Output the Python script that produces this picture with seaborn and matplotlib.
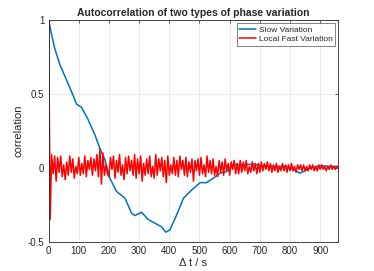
import numpy as np
import pandas as pd
import matplotlib
matplotlib.use('Agg')
import matplotlib.pyplot as plt
import seaborn as sns

# slow variation
slow_lag = [0, 10, 20, 37, 54, 75, 93, 109, 130, 154, 170, 187, 203, 225, 253, 275, 286,
            308, 330, 353, 375, 388, 402, 424, 447, 474, 502, 524, 546, 568, 590, 612,
            650, 679, 723, 760, 789, 810, 833, 850, 867, 900, 930, 960]
slow_val = [1.0, 0.90, 0.81, 0.70, 0.62, 0.52, 0.43, 0.41, 0.33, 0.22, 0.13, 0.054, -0.07,
            -0.16, -0.205, -0.307, -0.323, -0.30, -0.35, -0.375, -0.40, -0.435, -0.42,
            -0.32, -0.205, -0.15, -0.10, -0.10, -0.07, -0.036, -0.025, 0.02, 0.022, 0.025,
            0.01, 0.01, 0.01, -0.01, -0.036, -0.02, 0.0, 0.015, 0.01, 0.01]

# local fast variation, one value every 5 s
fast_val = [
    1.0, -0.35, 0.09, -0.04, 0.08, -0.09, 0.07, -0.03, 0.08, -0.06, 0.02, -0.08, 0.04, -0.05, 0.08, -0.03, 0.06, -0.07, 0.01, -0.04,
    0.07, -0.05, 0.03, -0.04, 0.08, -0.06, 0.05, -0.01, 0.07, -0.05, 0.06, -0.02, 0.09, -0.06, 0.13, -0.11, 0.10, -0.05, 0.02, -0.04,
    -0.06, 0.07, -0.01, 0.08, -0.07, 0.05, -0.03, 0.09, -0.05, 0.02, -0.08, 0.07, -0.04, 0.08, -0.02, 0.05, -0.05, 0.09, -0.07, 0.06,
    -0.04, 0.08, -0.09, 0.03, -0.05, 0.06, -0.04, 0.08, -0.06, 0.01, -0.07, 0.09, -0.05, 0.06, -0.02, 0.07, -0.06, 0.05, -0.10, 0.08,
    -0.05, 0.02, -0.04, 0.07, -0.05, 0.05, -0.06, 0.08, -0.01, 0.05, -0.05, 0.07, -0.06, 0.04, -0.03, 0.06, -0.09, 0.05, -0.02, 0.06,
    -0.05, 0.07, -0.04, 0.02, -0.06, 0.08, -0.03, 0.05, -0.04, 0.06, -0.05, 0.01, -0.06, 0.05, -0.03, 0.04, -0.05, 0.06, -0.02, 0.03,
    -0.05, 0.04, -0.01, 0.05, -0.04, 0.03, -0.04, 0.05, -0.03, 0.04, -0.02, 0.05, -0.04, 0.01, -0.03, 0.04, -0.02, 0.03, -0.04, 0.03,
    -0.03, 0.04, -0.02, 0.03, -0.01, 0.04, -0.02, 0.03, -0.03, 0.02, -0.02, 0.03, -0.03, 0.01, -0.02, 0.03, -0.02, 0.02, -0.03, 0.02,
    -0.02, 0.03, -0.02, 0.01, -0.03, 0.02, -0.01, 0.02, -0.02, 0.02, -0.02, 0.01, -0.02, 0.02, -0.01, 0.02, -0.02, 0.01, -0.02, 0.02,
    -0.01, 0.02, -0.01, 0.01, -0.02, 0.01, -0.01, 0.02, -0.01, 0.01, -0.01, 0.01, 0.0,
]
fast_lag = [5 * i for i in range(len(fast_val))]

x_ticks = [0, 100, 200, 300, 400, 500, 600, 700, 800, 900]
y_ticks = [-0.5, 0, 0.5, 1]
y_ticklabels = ['-0.5', '0', '0.5', '1']

sns.set_style('white')
plt.rcParams['font.family'] = ['Liberation Sans', 'DejaVu Sans']
plt.rcParams['xtick.direction'] = 'in'
plt.rcParams['ytick.direction'] = 'in'

fig = plt.figure(figsize=(3.74, 2.71), dpi=100)
ax = fig.add_axes([0.13, 0.108, 0.7745, 0.818])

df_slow = pd.DataFrame({'lag': slow_lag, 'val': slow_val})
df_fast = pd.DataFrame({'lag': fast_lag, 'val': fast_val})
sns.lineplot(data=df_slow, x='lag', y='val', ax=ax, color='#0072BD', lw=1.1,
             label='Slow Variation')
sns.lineplot(data=df_fast, x='lag', y='val', ax=ax, color='#FF0000', lw=1.1,
             label='Local Fast Variation')

ax.set_xlim(0, 960)
ax.set_ylim(-0.5, 1)
ax.set_xticks(x_ticks)
ax.set_yticks(y_ticks)
ax.set_yticklabels(y_ticklabels)
ax.grid(True, color='#e6e6e6', lw=0.6)
ax.set_axisbelow(True)
for s in ax.spines.values():
    s.set_color('#262626')
    s.set_linewidth(0.6)
ax.tick_params(labelsize=7, colors='#262626', length=2.5, width=0.5, pad=3,
               top=True, right=True)
ax.set_title('Autocorrelation of two types of phase variation', fontsize=7.5,
             fontweight='bold', pad=3)
ax.set_xlabel('Δ t / s', fontsize=8, color='#262626', labelpad=1.5)
ax.set_ylabel('correlation', fontsize=8, color='#262626', labelpad=3)
leg = ax.legend(loc='upper right', fontsize=6, frameon=True, fancybox=False,
                borderpad=0.3, handlelength=2.0, handletextpad=0.3,
                labelspacing=0.2, borderaxespad=0.4)
leg.get_frame().set_edgecolor('#262626')
leg.get_frame().set_linewidth(0.5)

fig.savefig('out.png', dpi=100)
